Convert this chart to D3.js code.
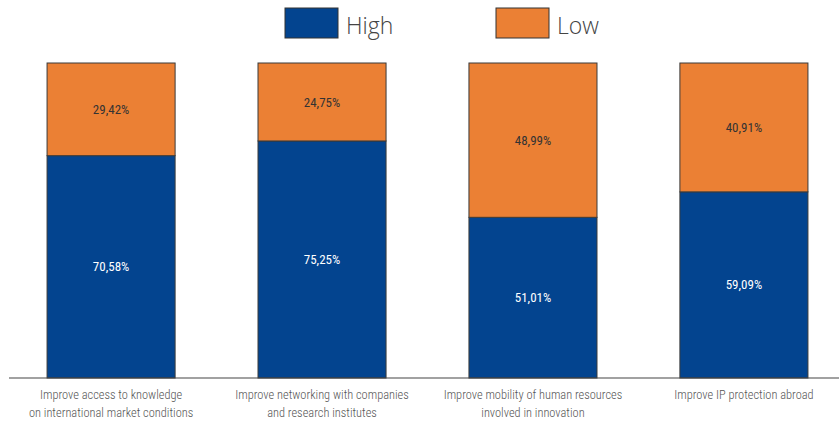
<!DOCTYPE html>
<html><head><meta charset="utf-8">
<script src="https://cdn.jsdelivr.net/npm/d3@7"></script>
<style>
html,body{margin:0;padding:0;background:#fff;}
svg{display:block;}
</style></head>
<body>
<svg id="chart" width="839" height="428"></svg>
<script>
const categories = [
  ["Improve access to knowledge", "on international market conditions"],
  ["Improve networking with companies", "and research institutes"],
  ["Improve mobility of human resources", "involved in innovation"],
  ["Improve IP protection abroad"]
];
const seriesNames = ["High", "Low"];
const highValues = [70.58, 75.25, 51.01, 59.09];
const lowValues = [29.42, 24.75, 48.99, 40.91];
const highLabels = ["70,58%", "75,25%", "51,01%", "59,09%"];
const lowLabels = ["29,42%", "24,75%", "48,99%", "40,91%"];

const colors = {High: "#03448F", Low: "#EB8034"};
const condensed = "'Liberation Sans Narrow','Roboto Condensed','Arial Narrow','DejaVu Sans Condensed',sans-serif";

const svg = d3.select("#chart");
const keys = categories.map((c, i) => "c" + i);
const rows = keys.map((k, i) => ({key: k, High: highValues[i], Low: lowValues[i], hl: highLabels[i], ll: lowLabels[i]}));

const x = d3.scaleBand().domain(keys).range([5.5, 849.5]).paddingInner(0.393).paddingOuter(0.197);
const y = d3.scaleLinear().domain([0, 100]).range([378, 63]);

const stack = d3.stack().keys(seriesNames)(rows);

const layers = svg.append("g").selectAll("g").data(stack).join("g")
  .attr("fill", d => colors[d.key]);
layers.selectAll("rect").data(d => d).join("rect")
  .attr("x", d => x(d.data.key))
  .attr("width", x.bandwidth())
  .attr("y", d => y(d[1]))
  .attr("height", d => y(d[0]) - y(d[1]))
  .attr("stroke", "#3a3a3a")
  .attr("stroke-width", 1);

// value labels
stack.forEach(layer => {
  svg.append("g").selectAll("text").data(layer).join("text")
    .attr("x", d => x(d.data.key) + x.bandwidth() / 2)
    .attr("y", d => (y(d[0]) + y(d[1])) / 2)
    .attr("dy", "0.35em")
    .attr("text-anchor", "middle")
    .attr("font-family", condensed)
    .attr("font-size", 13)
    .attr("font-weight", 400)
    .attr("fill", layer.key === "High" ? "#ffffff" : "#333333")
    .text(d => layer.key === "High" ? d.data.hl : d.data.ll);
});

// x axis line
svg.append("line").attr("x1", 9).attr("x2", 839).attr("y1", 378).attr("y2", 378)
  .attr("stroke", "#444").attr("stroke-width", 1.2);

// category labels
const catG = svg.append("g").selectAll("text").data(keys).join("text")
  .attr("text-anchor", "middle")
  .attr("font-family", condensed)
  .attr("font-size", 12.4)
  .attr("font-weight", 300)
  .attr("fill", "#555");
catG.each(function(k, i) {
  const t = d3.select(this);
  categories[i].forEach((line, j) => {
    t.append("tspan").attr("x", x(k) + x.bandwidth() / 2).attr("y", 399 + j * 18).text(line);
  });
});

// legend
const legendX = [285, 496];
const leg = svg.append("g").selectAll("g").data(seriesNames).join("g")
  .attr("transform", (d, i) => `translate(${legendX[i]},8)`);
leg.append("rect").attr("width", 53).attr("height", 30)
  .attr("fill", d => colors[d]).attr("stroke", "#333").attr("stroke-width", 1);
leg.append("text").attr("x", 61).attr("y", 26)
  .attr("font-family", "'Open Sans','Segoe UI',sans-serif").attr("font-weight", 300)
  .attr("font-size", 23).attr("fill", "#444").text(d => d);
</script>
</body></html>
